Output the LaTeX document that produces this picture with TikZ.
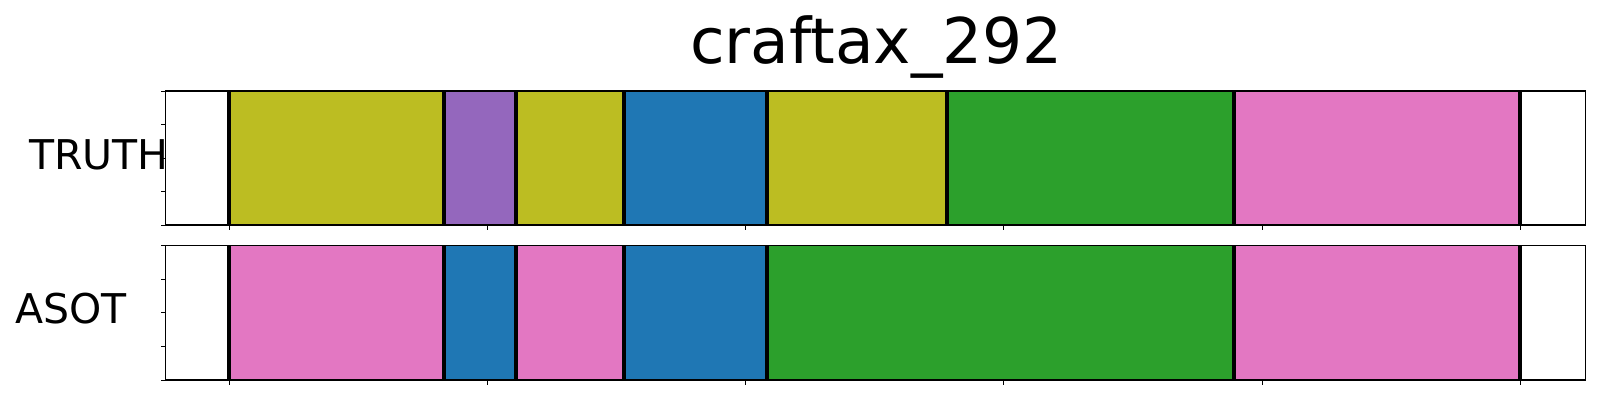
\documentclass[tikz,border=0pt]{standalone}
\usepackage{fontspec}
\setmainfont{DejaVu Sans}
\definecolor{tolive}{HTML}{BCBD22}
\definecolor{tpurple}{HTML}{9467BD}
\definecolor{tblue}{HTML}{1F77B4}
\definecolor{tgreen}{HTML}{2CA02C}
\definecolor{tpink}{HTML}{E377C2}
\tikzset{
  seg/.style={draw=none},
  sepline/.style={line width=3.8pt, black},
  frame/.style={line width=1.1pt, black},
  tick/.style={line width=1pt, black},
  lab/.style={inner sep=0pt, anchor=base west, font=\fontsize{41}{41}\selectfont},
  ttl/.style={inner sep=0pt, anchor=base west, font=\fontsize{63}{63}\selectfont}
}
\begin{document}
\begin{tikzpicture}[x=1pt,y=-1pt]
\useasboundingbox (0,0) rectangle (1600,400);
\fill[white] (0,0) rectangle (1600,400);
% title
\node[ttl] (title) at (690,63) {craftax\_292};
% labels
\node[lab] (ltruth) at (29,169) {TRUTH};
\node[lab] (lasot) at (15,323) {ASOT};
% TRUTH axis segments
\def\ta{91}\def\tb{225}
\fill[tolive]  (229,\ta) rectangle (443.7,\tb);
\fill[tpurple] (443.7,\ta) rectangle (515.8,\tb);
\fill[tolive]  (515.8,\ta) rectangle (623.8,\tb);
\fill[tblue]   (623.8,\ta) rectangle (767,\tb);
\fill[tolive]  (767,\ta) rectangle (947,\tb);
\fill[tgreen]  (947,\ta) rectangle (1233.8,\tb);
\fill[tpink]   (1233.8,\ta) rectangle (1520,\tb);
\foreach \x in {229,443.7,515.8,623.8,767,947,1233.8,1520}
  \draw[sepline] (\x,\ta) -- (\x,\tb);
\draw[frame] (165.7,\ta) rectangle (1585.7,\tb);
\foreach \y in {91,124.5,158,191.5,225}
  \draw[tick] (165.7,\y) -- (161,\y);
\foreach \x in {229,487.3,745.6,1003.9,1262.2,1520.5}
  \draw[tick] (\x,\tb) -- (\x,\tb+4.7);
% ASOT axis segments
\def\ba{245.7}\def\bb{380}
\fill[tpink]   (229,\ba) rectangle (443.7,\bb);
\fill[tblue]   (443.7,\ba) rectangle (515.8,\bb);
\fill[tpink]   (515.8,\ba) rectangle (623.8,\bb);
\fill[tblue]   (623.8,\ba) rectangle (767,\bb);
\fill[tgreen]  (767,\ba) rectangle (1233.8,\bb);
\fill[tpink]   (1233.8,\ba) rectangle (1520,\bb);
\foreach \x in {229,443.7,515.8,623.8,767,1233.8,1520}
  \draw[sepline] (\x,\ba) -- (\x,\bb);
\draw[frame] (165.7,\ba) rectangle (1585.7,\bb);
\foreach \y in {245.7,279.3,312.9,346.5,380}
  \draw[tick] (165.7,\y) -- (161,\y);
\foreach \x in {229,487.3,745.6,1003.9,1262.2,1520.5}
  \draw[tick] (\x,\bb) -- (\x,\bb+4.7);
\end{tikzpicture}
\end{document}
